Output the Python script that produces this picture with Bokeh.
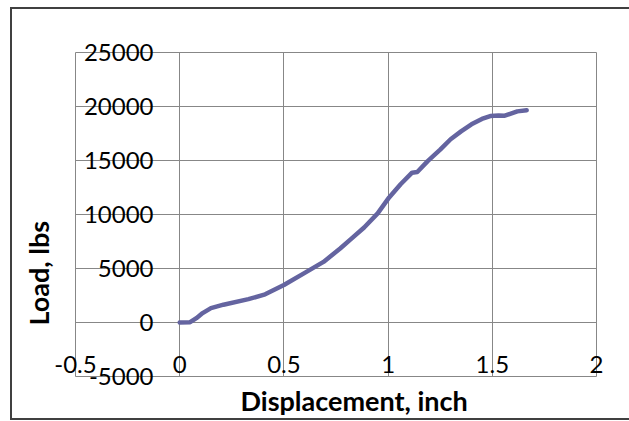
from bokeh.plotting import figure
from bokeh.models import FixedTicker, NumeralTickFormatter, Range1d, Title, InlineStyleSheet
from bokeh.embed import file_html
from bokeh.resources import INLINE

# ---- data ----
disp = [0.0, 0.05, 0.08, 0.11, 0.15, 0.21, 0.33, 0.41, 0.50, 0.60, 0.69, 0.77,
        0.82, 0.885, 0.95, 1.005, 1.06, 1.115, 1.14, 1.19, 1.25, 1.30, 1.35,
        1.40, 1.45, 1.49, 1.53, 1.56, 1.62, 1.665]
load = [0, 30, 400, 870, 1330, 1650, 2160, 2610, 3470, 4600, 5610, 6850,
        7700, 8800, 10100, 11580, 12800, 13870, 13930, 14940, 16000, 16970, 17700,
        18350, 18850, 19120, 19170, 19150, 19550, 19660]

x_ticks = [-0.5, 0, 0.5, 1, 1.5, 2]
y_ticks = [-5000, 0, 5000, 10000, 15000, 20000, 25000]
x_title = "Displacement, inch"
y_title = "Load, lbs"

GRID = "#878787"
LINE = "#6464A0"
FONT = "Lato"
BORDER = "#404040"

p = figure(width=629, height=421, output_backend="svg", toolbar_location=None,
           x_range=Range1d(-0.5, 2), y_range=Range1d(-5000, 25000),
           min_border_left=75, min_border_right=33,
           min_border_top=52, min_border_bottom=42)

p.border_fill_color = "white"
p.background_fill_color = "white"
p.outline_line_color = GRID
p.outline_line_width = 1

# outer chart-area border drawn as an overlay; its right side lies outside and is clipped
border_css = (":host { position: relative; overflow: hidden; } "
              ":host::after { content: ''; position: absolute; left: 10px; top: 7px; "
              "width: 650px; height: 413px; box-sizing: border-box; "
              f"border: 2px solid {BORDER}; "
              "pointer-events: none; z-index: 100; }")
p.stylesheets = [InlineStyleSheet(css=border_css)]

xt = FixedTicker(ticks=x_ticks)
yt = FixedTicker(ticks=y_ticks)
p.xaxis.ticker = xt
p.yaxis.ticker = yt
p.xgrid.ticker = xt
p.ygrid.ticker = yt
p.xgrid.grid_line_color = GRID
p.ygrid.grid_line_color = GRID

for ax in (p.xaxis, p.yaxis):
    ax.axis_line_color = None
    ax.major_tick_line_color = None
    ax.minor_tick_line_color = None
    ax.major_tick_in = 0
    ax.major_tick_out = 0
    ax.minor_tick_in = 0
    ax.minor_tick_out = 0
    ax.major_label_text_font = FONT
    ax.major_label_text_font_size = "24px"
    ax.major_label_text_color = "black"

p.xaxis.formatter = NumeralTickFormatter(format="0.[0]")
p.yaxis.formatter = NumeralTickFormatter(format="0")
p.xaxis.major_label_standoff = -21
p.yaxis.major_label_standoff = -78

p.line(disp, load, line_width=4.5, line_color=LINE, line_cap="round", line_join="round")

p.add_layout(Title(text=x_title, align="left", offset=165, text_font=FONT,
                   text_font_style="bold", text_font_size="27px", text_color="black"),
             "below")
p.add_layout(Title(text=y_title, align="left", offset=51, standoff=40,
                   vertical_align="middle", text_font=FONT,
                   text_font_style="bold", text_font_size="27px", text_color="black"),
             "left")

open("out.html", "w").write(file_html(p, INLINE))
